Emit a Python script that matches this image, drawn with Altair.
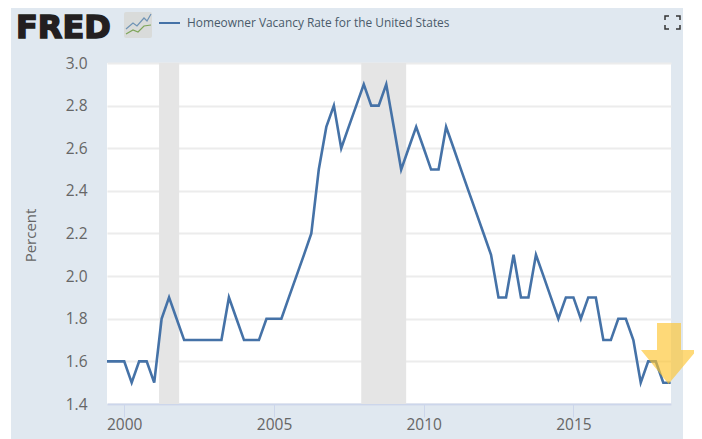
import altair as alt
import pandas as pd

values = [1.6, 1.6, 1.6, 1.6,
          1.5, 1.6, 1.6, 1.5,
          1.8, 1.9, 1.8, 1.7,
          1.7, 1.7, 1.7, 1.7,
          1.7, 1.9, 1.8, 1.7,
          1.7, 1.7, 1.8, 1.8,
          1.8, 1.9, 2.0, 2.1,
          2.2, 2.5, 2.7, 2.8,
          2.6, 2.7, 2.8, 2.9,
          2.8, 2.8, 2.9, 2.7,
          2.5, 2.6, 2.7, 2.6,
          2.5, 2.5, 2.7, 2.6,
          2.5, 2.4, 2.3, 2.2,
          2.1, 1.9, 1.9, 2.1,
          1.9, 1.9, 2.1, 2.0,
          1.9, 1.8, 1.9, 1.9,
          1.8, 1.9, 1.9, 1.7,
          1.7, 1.8, 1.8, 1.7,
          1.5, 1.6, 1.6, 1.5,
          1.5]
dates = pd.date_range("1999-04-01", periods=len(values), freq="QS").strftime("%Y-%m-%d").tolist()
rec_start = ["2001-03-01", "2007-12-01"]
rec_end = ["2001-11-01", "2009-06-01"]
y_ticks = [1.4, 1.6, 1.8, 2.0, 2.2, 2.4, 2.6, 2.8, 3.0]
x_ticks = ["2000-01-01", "2005-01-01", "2010-01-01", "2015-01-01"]
title_text = "Homeowner Vacancy Rate for the United States"
axis_title = "Percent"
logo_text = "FRED"

W, H = 564, 341
# The page's flex container is 686px wide: the svg must not be wider or it shrinks.
PL, PT, PR, PB = 99, 55, 23, 35
BLUE = "#e0e8f0"
LINE = "#4572a7"
TXT = "#666666"
FONT = "Open Sans"

x_scale = alt.Scale(type="utc", domain=["1999-06-05", "2018-04-05"])
y_scale = alt.Scale(domain=[1.4, 3.0], nice=False, zero=False)

df = pd.DataFrame({"date": dates, "value": values})
rec = pd.DataFrame({"start": rec_start, "end": rec_end})

bands = alt.Chart(rec).mark_rect(color="#e5e5e5").encode(
    x=alt.X("start:T", scale=x_scale,
            axis=alt.Axis(values=x_ticks, format="%Y", title=None, grid=False,
                          domainColor="#ccd6eb", domainWidth=2, tickColor="#ccd6eb", tickSize=13,
                          labelColor=TXT, labelFont=FONT, labelFontSize=15.5, labelPadding=0,
                          labelOverlap=False)),
    x2="end:T",
)

line = alt.Chart(df).mark_line(color=LINE, strokeWidth=2.6, clip=True, strokeJoin="miter").encode(
    x=alt.X("date:T", scale=x_scale),
    y=alt.Y("value:Q", scale=y_scale,
            axis=alt.Axis(values=y_ticks, format=".1f", title=axis_title, grid=True,
                          gridColor="#ececec", gridWidth=2, domain=False, ticks=False,
                          labelColor=TXT, labelFont=FONT, labelFontSize=15.5, labelPadding=20,
                          titleColor=TXT, titleFont=FONT, titleFontSize=15, titleFontWeight="normal",
                          titleX=-69, titleY=172)),
)


def pt(path, xp, yp, **kw):
    """Decorative SVG path placed in pixels (size 4 = 1 path unit per pixel)."""
    return alt.Chart(df.head(1)).mark_point(shape=path, size=4, clip=False, opacity=1, **kw).encode(
        x=alt.value(xp), y=alt.value(yp))


def tx(text, xp, yp, **kw):
    return alt.Chart(pd.DataFrame({"t": [text]})).mark_text(align="left", **kw).encode(
        x=alt.value(xp), y=alt.value(yp), text="t:N")


strip_left = pt("M0 0H3V431H0Z", -99, -55, filled=True, fill="white", stroke=None)
strip_right = pt("M0 0H14V431H0Z", 576, -55, filled=True, fill="white", stroke=None)

logo = tx(logo_text, -91, -25, baseline="alphabetic", font="DejaVu Sans", fontSize=32, fontWeight="bold",
          color="#231f20", stroke="#231f20", strokeWidth=1.5)
icon_bg = pt("M2 0H26Q28 0 28 2V24Q28 26 26 26H2Q0 26 0 24V2Q0 0 2 0Z", 17, -51,
             filled=True, fill="#d9dbda", stroke=None)
icon_blue = pt("M2 17L9 11L13 14L20 6L23 9L27 2", 17, -51, filled=False, stroke="#6f93b5", strokeWidth=1.2)
icon_green = pt("M2 22L9 18L14 20L20 14L27 13", 17, -51, filled=False, stroke="#7ea55a", strokeWidth=1.2)

legend_dash = pt("M0 0H21", 52, -40, filled=False, stroke=LINE, strokeWidth=2)
title = tx(title_text, 80, -40, baseline="middle", font=FONT, fontSize=11.9, color="#4a5a6a")

ex = "M0 4V0H4M11 0H15V4M15 9V13H11M4 13H0V9"
expand = pt(ex, 558, -47, filled=False, stroke="#333333", strokeWidth=1.5)

arrow = pt("M16 0H40V27H56L27.5 61L0 27H16Z", 534, 260, filled=True, fill="#fdc52f",
           stroke=None).encode(opacity=alt.value(0.65))

chart = alt.layer(
    strip_left, strip_right, bands, line, logo, icon_bg, icon_blue, icon_green,
    legend_dash, title, expand, arrow,
).properties(
    width=W, height=H, background=BLUE,
    padding={"left": PL, "top": PT, "right": PR, "bottom": PB},
    autosize=alt.AutoSizeParams(type="none"),
).configure_view(fill="white", stroke=None)

chart.save("out.html", embed_options={"renderer": "svg", "actions": False})
